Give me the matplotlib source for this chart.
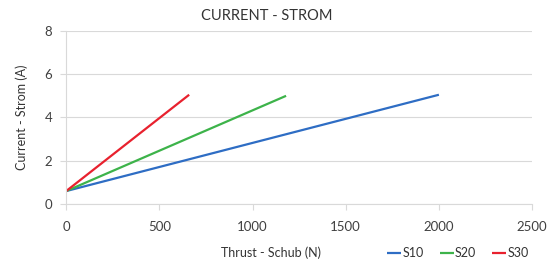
import matplotlib.pyplot as plt

# Thrust (N) vs current (A) for the three variants, straight-line fits
series = ["S10", "S20", "S30"]
thrust_s10 = [0, 2000]
current_s10 = [0.6, 5.05]
thrust_s20 = [0, 1180]
current_s20 = [0.6, 5.0]
thrust_s30 = [0, 660]
current_s30 = [0.6, 5.05]

x_ticks = [0, 500, 1000, 1500, 2000, 2500]
y_ticks = [0, 2, 4, 6, 8]

colors = ["#2e6dc4", "#3db34a", "#e8212e"]

plt.rcParams["font.family"] = ["Lato", "DejaVu Sans"]

fig = plt.figure(figsize=(5.56, 2.71), dpi=100)
ax = fig.add_axes([0.119, 0.247, 0.838, 0.639])

for name, xs, ys, c in zip(series,
                           [thrust_s10, thrust_s20, thrust_s30],
                           [current_s10, current_s20, current_s30],
                           colors):
    ax.plot(xs, ys, color=c, lw=1.6, label=name, solid_capstyle="butt")

ax.set_xlim(0, 2500)
ax.set_ylim(0, 8)
ax.set_xticks(x_ticks)
ax.set_yticks(y_ticks)
ax.yaxis.grid(True, color="#d9d9d9", lw=0.8)
ax.set_axisbelow(True)

for side in ("top", "right"):
    ax.spines[side].set_visible(False)
for side in ("left", "bottom"):
    ax.spines[side].set_color("#d9d9d9")
    ax.spines[side].set_linewidth(0.8)

ax.tick_params(axis="both", colors="#d9d9d9", labelcolor="#404040",
               labelsize=9.5, length=4, width=0.8)
ax.tick_params(axis="y", pad=6)
ax.tick_params(axis="x", pad=8)

fig.text(0.48, 0.94, "CURRENT - STROM", fontsize=10.5, color="#333333",
         ha="center", va="center")
ax.set_ylabel("Current - Strom (A)", fontsize=9, color="#333333", labelpad=12)
fig.text(0.487, 0.068, "Thrust - Schub (N)", fontsize=9, color="#333333",
         ha="center", va="center")

ax.legend(loc="center left", bbox_to_anchor=(0.665, -0.285), ncol=3,
          frameon=False, fontsize=9, handlelength=1.1, handletextpad=0.1,
          columnspacing=1.3, labelcolor="#333333")

fig.savefig("out.png", dpi=100)
